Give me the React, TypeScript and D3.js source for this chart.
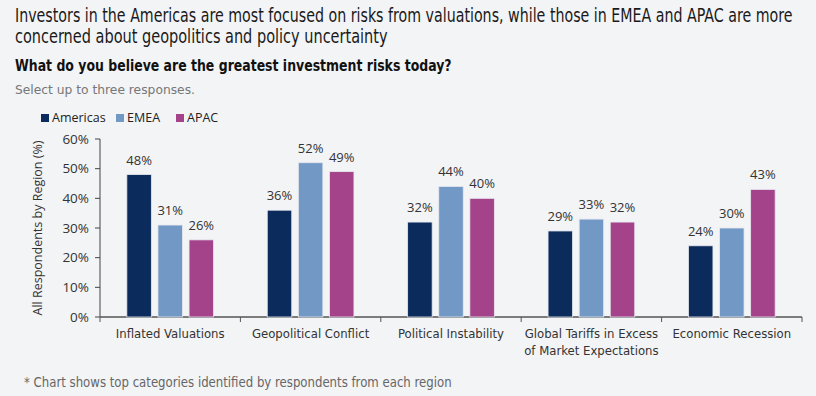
import React, { useLayoutEffect, useRef, useState } from "react";
import * as d3 from "d3";

const categories = [
  ["Inflated Valuations"],
  ["Geopolitical Conflict"],
  ["Political Instability"],
  ["Global Tariffs in Excess", "of Market Expectations"],
  ["Economic Recession"],
];
const seriesNames = ["Americas", "EMEA", "APAC"];
const americas = [48, 36, 32, 29, 24];
const emea = [31, 52, 44, 33, 30];
const apac = [26, 49, 40, 32, 43];
const yTicks = [0, 10, 20, 30, 40, 50, 60];
const colors = ["#0a2b5c", "#7299c6", "#a5438a"];

const W = 816;
const H = 396;
const COND = "'DejaVu Sans Condensed','Liberation Sans Narrow',sans-serif";
const SANS = "'Open Sans','Noto Sans',sans-serif";

function FitText(props: {
  x: number; y: number; width: number; fontSize: number; fill: string;
  weight?: string; children: string;
}) {
  const ref = useRef<SVGTextElement>(null);
  const [s, setS] = useState(1);
  useLayoutEffect(() => {
    if (ref.current) {
      const len = ref.current.getComputedTextLength();
      if (len > 0) setS(props.width / len);
    }
  }, [props.width, props.children]);
  return (
    <text
      ref={ref}
      transform={`translate(${props.x},${props.y}) scale(${s},1)`}
      fontFamily={COND}
      fontStretch="condensed"
      fontWeight={props.weight || "normal"}
      fontSize={props.fontSize}
      fill={props.fill}
    >
      {props.children}
    </text>
  );
}

export default function App() {
  const left = 100, right = 802, top = 139, bottom = 317;
  const x0 = d3.scaleBand<number>().domain(d3.range(categories.length)).range([left, right]).padding(0);
  const y = d3.scaleLinear().domain([0, 60]).range([bottom, top]);
  const series = [americas, emea, apac];
  const barW = 24.5;
  const step = 31.1;

  return (
    <div style={{ position: "absolute", left: 0, top: 0, width: W, height: H }}>
      <svg width={W} height={H} style={{ display: "block", background: "#f3f4f6" }}>
        <rect x={0} y={0} width={W} height={H} fill="#f3f4f6" />
        <FitText x={15} y={21.5} width={778} fontSize={19} fill="#1a1a1a">
          Investors in the Americas are most focused on risks from valuations, while those in EMEA and APAC are more
        </FitText>
        <FitText x={15} y={43} width={373} fontSize={19} fill="#1a1a1a">
          concerned about geopolitics and policy uncertainty
        </FitText>
        <FitText x={15} y={71} width={437} fontSize={16} weight="bold" fill="#111">
          What do you believe are the greatest investment risks today?
        </FitText>
        <FitText x={15} y={94} width={180} fontSize={13} fill="#777">
          Select up to three responses.
        </FitText>

        {/* legend */}
        {seriesNames.map((n, i) => {
          const lx = [41, 116, 176][i];
          return (
            <g key={n}>
              <rect x={lx} y={114} width={8} height={8} fill={colors[i]} />
              <text x={lx + 11} y={122} fontFamily={SANS} fontSize={12.5} fill="#222">{n}</text>
            </g>
          );
        })}

        {/* y axis */}
        <line x1={left} x2={left} y1={top} y2={bottom} stroke="#444" strokeWidth={1} />
        {yTicks.map((t) => (
          <g key={t}>
            <line x1={left - 5} x2={left} y1={y(t)} y2={y(t)} stroke="#444" />
            <text x={left - 11} y={y(t) + 4.5} textAnchor="end" fontFamily={SANS} fontSize={13.5} fill="#333">{t}%</text>
          </g>
        ))}
        <text transform={`translate(42,${(top + bottom) / 2}) rotate(-90)`} textAnchor="middle" fontFamily={SANS} fontSize={12.5} fill="#333">
          All Respondents by Region (%)
        </text>

        {/* x axis */}
        <line x1={left} x2={right} y1={bottom} y2={bottom} stroke="#555" strokeWidth={1.5} />
        {d3.range(categories.length + 1).map((i) => {
          const xx = i < categories.length ? x0(i)! : right;
          return <line key={i} x1={xx} x2={xx} y1={bottom} y2={bottom + 5} stroke="#555" />;
        })}

        {/* bars */}
        {categories.map((c, ci) => {
          const cx = x0(ci)! + x0.bandwidth() / 2;
          return (
            <g key={ci}>
              {series.map((s, si) => {
                const bx = cx + (si - 1) * step - barW / 2;
                return (
                  <g key={si}>
                    <rect x={bx} y={y(s[ci])} width={barW} height={bottom - y(s[ci])} fill={colors[si]} stroke="#e6e8ee" strokeWidth={0.8} />
                    <text x={bx + barW / 2} y={y(s[ci]) - 10} textAnchor="middle" fontFamily={SANS} fontSize={13} fill="#333">{s[ci]}%</text>
                  </g>
                );
              })}
              {c.map((line, li) => (
                <text key={li} x={cx} y={338 + li * 17} textAnchor="middle" fontFamily={COND} fontStretch="condensed" fontSize={13} fill="#333">{line}</text>
              ))}
            </g>
          );
        })}

        <FitText x={24} y={387} width={428} fontSize={13.5} fill="#666">
          * Chart shows top categories identified by respondents from each region
        </FitText>
      </svg>
    </div>
  );
}
